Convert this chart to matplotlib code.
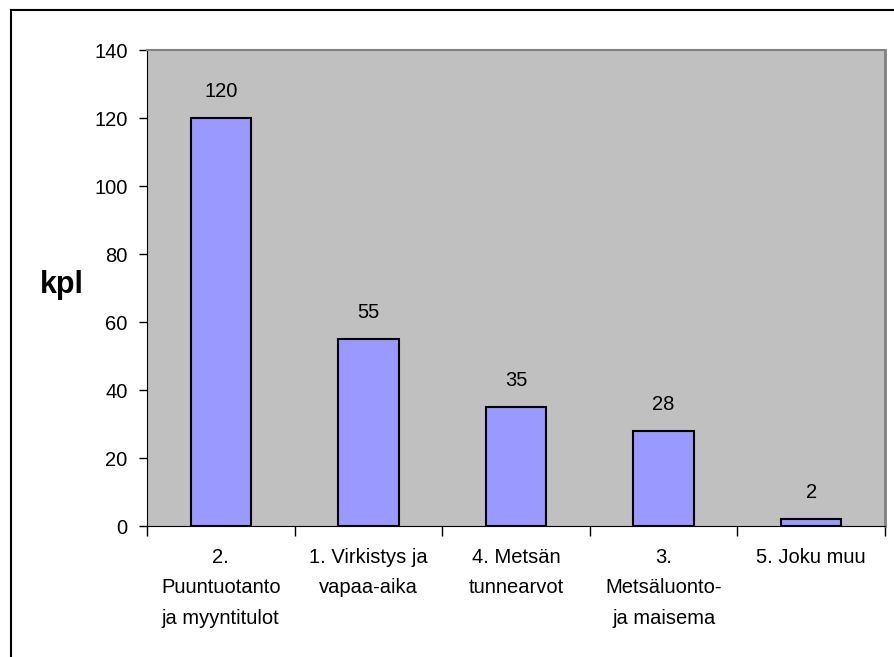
import matplotlib.pyplot as plt
from matplotlib.lines import Line2D

categories = ["2.\nPuuntuotanto\nja myyntitulot", "1. Virkistys ja\nvapaa-aika",
              "4. Metsän\ntunnearvot", "3.\nMetsäluonto-\nja maisema", "5. Joku muu"]
counts = [120, 55, 35, 28, 2]
yticks = [0, 20, 40, 60, 80, 100, 120, 140]

plt.rcParams['font.family'] = ['Liberation Sans', 'DejaVu Sans']

fig = plt.figure(figsize=(8.94, 6.57), dpi=100)
ax = fig.add_axes([147/894, 1 - 526/657, (885 - 147)/894, (526 - 50)/657])
ax.set_facecolor('#C0C0C0')

x = list(range(len(counts)))
bars = ax.bar(x, counts, width=0.41, color='#9999FF', edgecolor='black', linewidth=1.5)
for xi, v in zip(x, counts):
    ax.text(xi, v + 5, str(v), ha='center', va='bottom', fontsize=14.5)

ax.set_xlim(-0.5, len(counts) - 0.5)
ax.set_ylim(0, 140)
ax.set_yticks(yticks)
ax.tick_params(axis='y', direction='out', length=6, width=1, pad=8, labelsize=14.5)

ax.set_xticks(x)
ax.set_xticklabels(categories, fontsize=14.5, linespacing=1.75)
ax.set_xticks([i - 0.5 for i in range(len(counts) + 1)], minor=True)
ax.tick_params(axis='x', which='major', length=0, pad=16)
ax.tick_params(axis='x', which='minor', direction='out', length=7, width=1)

ax.spines['left'].set_color('black')
ax.spines['bottom'].set_color('black')
ax.spines['top'].set_color('#808080')
ax.spines['right'].set_color('#808080')
ax.spines['top'].set_linewidth(1.5)
ax.spines['right'].set_linewidth(2)

fig.text(62/894, 1 - 285/657, "kpl", ha='center', va='center', fontsize=22, fontweight='bold')

# outer chart border (only top and left visible in the reference)
fig.add_artist(Line2D([11/894, 11/894], [0, 1 - 10/657], color='black', linewidth=1.5))
fig.add_artist(Line2D([11/894, 1], [1 - 10/657, 1 - 10/657], color='black', linewidth=1.5))

fig.savefig("out.png", dpi=100)
